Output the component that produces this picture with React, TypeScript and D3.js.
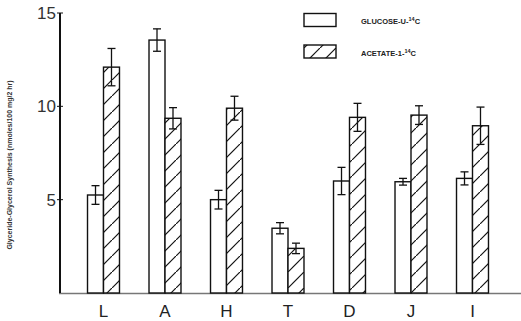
import React from "react";
import * as d3 from "d3";

const categories = ["L", "A", "H", "T", "D", "J", "I"];
const glucose = [5.25, 13.55, 5.0, 3.47, 6.0, 5.96, 6.14];
const glucoseErr = [0.5, 0.6, 0.5, 0.3, 0.73, 0.18, 0.35];
const acetate = [12.1, 9.36, 9.9, 2.39, 9.41, 9.53, 8.96];
const acetateErr = [1.0, 0.57, 0.64, 0.28, 0.75, 0.5, 1.0];
const yTicks = [5, 10, 15];
const seriesKeys = ["glucose", "acetate"];

export default function App() {
  const W = 521, H = 321;
  const y = d3.scaleLinear().domain([0, 15]).range([293, 13]);
  const x = d3.scaleBand<string>().domain(categories).range([72.75, 503.25]).paddingInner(0.48).paddingOuter(0.24);
  const xs = d3.scaleBand<string>().domain(seriesKeys).range([0, x.bandwidth()]);
  const bw = xs.bandwidth();

  const bars: any[] = [];
  categories.forEach((c, i) => {
    [[glucose, glucoseErr, "glucose"], [acetate, acetateErr, "acetate"]].forEach(([vals, errs, key]: any) => {
      const x0 = (x(c) as number) + (xs(key) as number);
      const v = vals[i], e = errs[i];
      const cx = x0 + bw / 2;
      bars.push(
        <g key={c + key}>
          <rect x={x0} y={y(v)} width={bw} height={y(0) - y(v)}
            fill={key === "acetate" ? "url(#hatch)" : "#fff"} stroke="#111" strokeWidth={1.4} />
          <line x1={cx} x2={cx} y1={y(v + e)} y2={y(v - e)} stroke="#111" strokeWidth={1.3} />
          <line x1={cx - 4} x2={cx + 4} y1={y(v + e)} y2={y(v + e)} stroke="#111" strokeWidth={1.3} />
          <line x1={cx - 4} x2={cx + 4} y1={y(v - e)} y2={y(v - e)} stroke="#111" strokeWidth={1.3} />
        </g>
      );
    });
  });

  return (
    <svg width={W} height={H} style={{ position: "absolute", left: 0, top: 0, background: "#fff" }}>
      <defs>
        <pattern id="hatch" patternUnits="userSpaceOnUse" width={16} height={16}>
          <rect width={16} height={16} fill="#fff" />
          <line x1={-2} y1={18} x2={18} y2={-2} stroke="#111" strokeWidth={1.2} />
        </pattern>
      </defs>
      {/* x axis */}
      <line x1={59} x2={521} y1={y(0) + 0.5} y2={y(0) + 0.5} stroke="#777" strokeWidth={1.5} />
      {bars}
      {/* y axis */}
      <line x1={60} x2={60} y1={y(15)} y2={y(0)} stroke="#111" strokeWidth={2} />
      {yTicks.map((t) => (
        <g key={t}>
          <line x1={57} x2={63} y1={y(t)} y2={y(t)} stroke="#111" strokeWidth={1} />
          <text x={56} y={y(t)} dy="0.36em" textAnchor="end" fontFamily="Liberation Sans, Arial, sans-serif"
            fontSize={17} fill="#333">{t}</text>
        </g>
      ))}
      {categories.map((c) => (
        <text key={c} x={(x(c) as number) + x.bandwidth() / 2} y={317} textAnchor="middle"
          fontFamily="Liberation Sans, Arial, sans-serif" fontSize={17} fill="#222">{c}</text>
      ))}
      <text transform={`translate(12,165) rotate(-90)`} textAnchor="middle"
        fontFamily="Liberation Sans, Arial, sans-serif" fontSize={7} fontWeight="bold" fill="#333">
        Glyceride-Glycerol Synthesis (nmoles/100 mg/2 hr)
      </text>
      {/* legend */}
      <rect x={304} y={13.5} width={32} height={13} fill="#fff" stroke="#111" strokeWidth={1.4} />
      <rect x={304} y={45} width={32} height={13} fill="url(#hatch)" stroke="#111" strokeWidth={1.4} />
      <text x={361} y={24} fontFamily="Liberation Sans, Arial, sans-serif" fontSize={7.5} fontWeight="bold" fill="#222">
        GLUCOSE-U-<tspan dy={-3} fontSize={5.5}>14</tspan><tspan dy={3}>C</tspan>
      </text>
      <text x={361} y={56} fontFamily="Liberation Sans, Arial, sans-serif" fontSize={7.5} fontWeight="bold" fill="#222">
        ACETATE-1-<tspan dy={-3} fontSize={5.5}>14</tspan><tspan dy={3}>C</tspan>
      </text>
    </svg>
  );
}
